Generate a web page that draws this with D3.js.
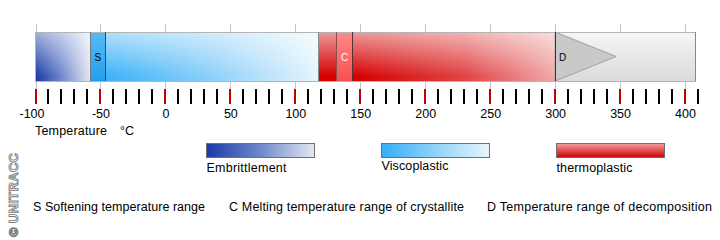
<!DOCTYPE html>
<html lang="en">
<head>
	<meta charset="utf-8">
	<title>Temperature ranges</title>
<style>
	body,
	html {
	  margin: 0;
	  padding: 0;
	  background: #fff;
	  font-family: "Liberation Sans", Arial, Helvetica, sans-serif;
	}
	svg text {
	  font-size: 12.5px;
	  fill: #000;
	}
	.crisp {
	  shape-rendering: crispEdges;
	}
</style>
</head>
<body>
	<svg></svg>
	<script src="https://cdn.jsdelivr.net/npm/d3@7"></script>
	<script>

		// temperature ranges of the bar (°C)
		let ranges = [
			{ name: "Embrittlement", from: -100, to: -58 },
			{ name: "Viscoplastic", from: -58, to: 118 },
			{ name: "thermoplastic", from: 118, to: 300 },
			{ name: "decomposition", from: 300, to: 408 }
		];

		// marked sub ranges inside the bar
		let bands = [
			{ key: "S", from: -58, to: -46 },
			{ key: "C", from: 132, to: 144 },
			{ key: "D", from: 300, to: 347 }
		];

		let legendNames = ["Embrittlement", "Viscoplastic", "thermoplastic"];

		let notes = [
			"S Softening temperature range",
			"C Melting temperature range of crystallite",
			"D Temperature range of decomposition"
		];

		let minorTicks = d3.range(-100, 411, 10);
		let majorTicks = d3.range(-100, 401, 50);

		let w = 720, h = 240;
		let barTop = 32, barH = 49;

		let svg = d3.select("svg")
			.attr("width", w)
			.attr("height", h);

		let x = d3.scaleLinear()
			.domain([-100, 400])
			.range([35.5, 685]);

		let defs = svg.append("defs");

		// horizontal gradient helper, userSpace so pad extends end colours
		function hGrad(id, x1, x2, stops) {
			let g = defs.append("linearGradient")
				.attr("id", id)
				.attr("gradientUnits", "userSpaceOnUse")
				.attr("x1", x1).attr("x2", x2)
				.attr("y1", 0).attr("y2", 0);
			stops.forEach(s => g.append("stop").attr("offset", s[0]).attr("stop-color", s[1]));
		}

		hGrad("g-emb", x(-100), x(-58), [[0, "#1a3aa6"], [0.45, "#6a84cc"], [1, "#e2e5f0"]]);
		hGrad("g-visc", x(-46), x(118), [[0, "#3cb2f8"], [0.5, "#8ed0fa"], [1, "#e6f5fd"]]);
		hGrad("g-thermo", x(144), x(300), [[0, "#d40000"], [0.55, "#e04444"], [1, "#f0a8a8"]]);
		hGrad("g-dec", x(300), x(408), [[0, "#e2e2e2"], [1, "#e8e8e8"]]);

		// vertical white gloss laid over every range
		let gloss = defs.append("linearGradient")
			.attr("id", "g-gloss")
			.attr("x1", 0).attr("x2", 0)
			.attr("y1", 0).attr("y2", 1);
		gloss.append("stop").attr("offset", 0).attr("stop-color", "#fff").attr("stop-opacity", 0.6);
		gloss.append("stop").attr("offset", 0.9).attr("stop-color", "#fff").attr("stop-opacity", 0);

		let vgrad = (id, top, bottom) => {
			let g = defs.append("linearGradient")
				.attr("id", id)
				.attr("x1", 0).attr("x2", 0)
				.attr("y1", 0).attr("y2", 1);
			g.append("stop").attr("offset", 0).attr("stop-color", top);
			g.append("stop").attr("offset", 1).attr("stop-color", bottom);
		};
		vgrad("g-S", "#58baf4", "#22a0ec");
		vgrad("g-C", "#ff8a8a", "#f85050");
		vgrad("g-D", "#f6f6f6", "#dadada");

		// legend swatch gradients (objectBoundingBox)
		let lg = (id, stops) => {
			let g = defs.append("linearGradient").attr("id", id);
			stops.forEach(s => g.append("stop").attr("offset", s[0]).attr("stop-color", s[1]));
		};
		lg("l-emb", [[0, "#1a3aa6"], [0.5, "#7088cc"], [1, "#e4e7f2"]]);
		lg("l-visc", [[0, "#34aef8"], [0.5, "#90d2fa"], [1, "#e8f6fd"]]);
		vgrad("l-thermo", "#f4a0a0", "#cc0000");

		let fills = {
			"Embrittlement": "url(#g-emb)",
			"Viscoplastic": "url(#g-visc)",
			"thermoplastic": "url(#g-thermo)",
			"decomposition": "url(#g-dec)"
		};
		let legendFills = ["url(#l-emb)", "url(#l-visc)", "url(#l-thermo)"];

		// grid lines at the labelled temperatures
		svg.append("g")
			.attr("class", "crisp")
			.attr("transform", "translate(0,24)")
			.call(d3.axisBottom(x).tickValues(majorTicks).tickSize(65).tickFormat(""))
			.call(g => g.select(".domain").remove())
			.call(g => g.selectAll("line").attr("stroke", "#c4c4c4"));

		let bar = svg.append("g");

		// ranges
		bar.selectAll("rect.range")
			.data(ranges)
			.enter()
			.append("rect")
			.attr("class", "range crisp")
			.attr("x", d => x(d.from))
			.attr("y", barTop)
			.attr("width", d => x(d.to) - x(d.from))
			.attr("height", barH)
			.attr("fill", d => fills[d.name]);

		bar.selectAll("rect.gloss")
			.data(ranges.filter(d => d.name != "decomposition"))
			.enter()
			.append("rect")
			.attr("class", "gloss crisp")
			.attr("x", d => x(d.from))
			.attr("y", barTop)
			.attr("width", d => x(d.to) - x(d.from))
			.attr("height", barH)
			.attr("fill", "url(#g-gloss)");

		// gray decomposition background a bit shaded top to bottom
		let dec = ranges[3];
		bar.append("rect")
			.attr("class", "crisp")
			.attr("x", x(dec.from))
			.attr("y", barTop)
			.attr("width", x(dec.to) - x(dec.from))
			.attr("height", barH)
			.attr("fill", "url(#g-D)");

		// S and C bands
		bar.selectAll("rect.band")
			.data(bands.filter(d => d.key != "D"))
			.enter()
			.append("rect")
			.attr("class", "band crisp")
			.attr("x", d => x(d.from))
			.attr("y", barTop)
			.attr("width", d => x(d.to) - x(d.from))
			.attr("height", barH)
			.attr("fill", d => d.key == "S" ? "url(#g-S)" : "url(#g-C)");

		// D triangle
		let dBand = bands[2];
		bar.append("path")
			.attr("d", `M${x(dBand.from)},${barTop}L${x(dBand.to)},${barTop + barH / 2}L${x(dBand.from)},${barTop + barH}Z`)
			.attr("fill", "#c9c9c9")
			.attr("stroke", "#a0a0a0")
			.attr("stroke-width", 1);

		// outline of the whole bar
		bar.append("rect")
			.attr("class", "crisp")
			.attr("x", x(-100))
			.attr("y", barTop)
			.attr("width", x(408) - x(-100))
			.attr("height", barH)
			.attr("fill", "none")
			.attr("stroke", "#b4b4b4");

		// boundary lines between ranges
		let edges = [
			{ t: -58, c: "#8c8c8c" },
			{ t: bands[0].from, c: "#6a7a88" },
			{ t: bands[0].to, c: "#3c4a58" },
			{ t: 118, c: "#8c8c8c" },
			{ t: bands[1].from, c: "#8a5050" },
			{ t: bands[1].to, c: "#553333" },
			{ t: 300, c: "#333" },
			{ t: 408, c: "#888" }
		];
		bar.selectAll("line.edge")
			.data(edges)
			.enter()
			.append("line")
			.attr("class", "edge crisp")
			.attr("x1", d => x(d.t)).attr("x2", d => x(d.t))
			.attr("y1", barTop).attr("y2", barTop + barH)
			.attr("stroke", d => d.c);

		// band letters
		bar.selectAll("text.key")
			.data(bands)
			.enter()
			.append("text")
			.attr("class", "key")
			.attr("x", d => d.key == "D" ? x(d.from) + 4 : (x(d.from) + x(d.to)) / 2)
			.attr("y", barTop + barH / 2 + 4)
			.attr("text-anchor", d => d.key == "D" ? "start" : "middle")
			.style("font-size", "10px")
			.style("fill", d => d.key == "C" ? "#fff" : "#000")
			.text(d => d.key);

		// scale ticks
		svg.append("g")
			.attr("class", "crisp")
			.selectAll("line")
			.data(minorTicks)
			.enter()
			.append("line")
			.attr("x1", d => Math.round(x(d)))
			.attr("x2", d => Math.round(x(d)))
			.attr("y1", 89)
			.attr("y2", 104)
			.attr("stroke", d => d % 50 == 0 ? "#c00000" : "#000")
			.attr("stroke-width", 2);

		// tick labels
		svg.append("g")
			.attr("transform", "translate(0,105)")
			.call(d3.axisBottom(x).tickValues(majorTicks).tickSize(0).tickPadding(4).tickFormat(d => d))
			.call(g => g.select(".domain").remove())
			.call(g => g.selectAll("text").style("font-family", "inherit").attr("fill", "#000"))
			.call(g => g.selectAll("text").filter(d => d == -100).attr("dx", -4));

		svg.append("text")
			.attr("x", 35)
			.attr("y", 135)
			.attr("textLength", 72)
			.text("Temperature");
		svg.append("text")
			.attr("x", 120)
			.attr("y", 135)
			.text("°C");

		// legend
		let legendTextLen = [80, 67, 76];
		let legend = svg.append("g")
			.selectAll("g")
			.data(legendNames)
			.enter()
			.append("g")
			.attr("transform", (d, i) => `translate(${206.5 + i * 175},143.5)`);

		legend.append("rect")
			.attr("width", 108)
			.attr("height", 14)
			.attr("fill", (d, i) => legendFills[i])
			.attr("stroke", "#707070");

		legend.append("text")
			.attr("x", 0)
			.attr("y", (d, i) => i == 1 ? 26.5 : 28)
			.attr("textLength", (d, i) => legendTextLen[i])
			.text(d => d);

		// footnotes
		let noteX = [33, 229, 487];
		let noteLen = [172, 235, 225];
		svg.append("g")
			.selectAll("text")
			.data(notes)
			.enter()
			.append("text")
			.attr("x", (d, i) => noteX[i])
			.attr("y", 211)
			.attr("textLength", (d, i) => noteLen[i])
			.text(d => d);

		// copyright
		svg.append("text")
			.attr("transform", "translate(18,237) rotate(-90)")
			.attr("textLength", 84)
			.style("font-size", "13px")
			.style("font-weight", "bold")
			.style("fill", "#fff")
			.style("stroke", "#7a7a7a")
			.style("stroke-width", 0.9)
			.text("© UNITRACC");

	</script>
</body>
</html>
